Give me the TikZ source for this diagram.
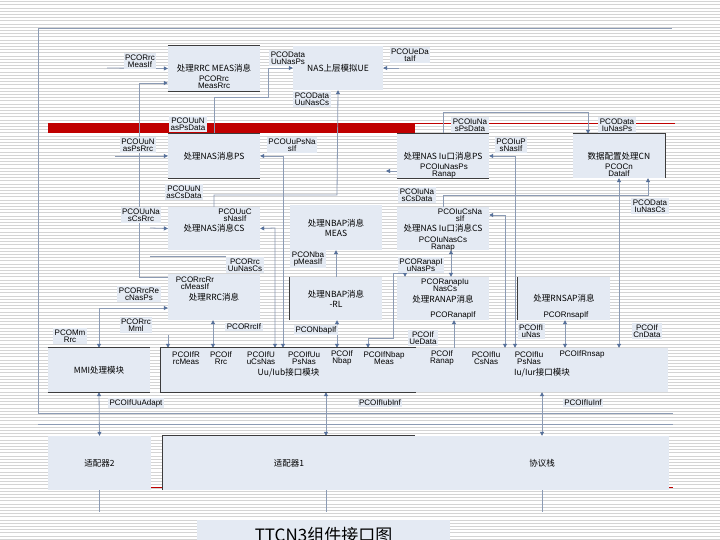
\documentclass[tikz,border=0pt]{standalone}
\usepackage{fontspec}
\setmainfont{Liberation Sans}
\newfontfamily\cjk{Noto Sans CJK SC}
\usepackage{xcolor}
\definecolor{ttbox}{HTML}{E4EAF3}
\definecolor{ttline}{HTML}{8C9BB4}
\definecolor{tttip}{HTML}{56709A}
\definecolor{ttdark}{HTML}{3C3C3C}
\definecolor{ttred}{HTML}{C00000}
\definecolor{ttstripe}{HTML}{D4D4D4}
\usepackage{tikz}
\usetikzlibrary{arrows.meta}
\pgfdeclarelayer{back}
\pgfdeclarelayer{wires}
\pgfsetlayers{back,wires,main}

\begin{document}
\begin{tikzpicture}[x=1pt,y=-1pt]
\tikzset{
 n/.style={fill=ttbox,inner sep=1pt,align=center,font=\cjk\fontsize{8.5}{10}\selectfont},
 l/.style={fill=ttbox,inner sep=1.5pt,align=center,font=\fontsize{8}{7.5}\selectfont},
 p/.style={inner sep=0pt,align=center,font=\fontsize{8}{7.5}\selectfont},
 w/.style={draw=ttline,line width=0.8pt},
 a/.style={w,-{Triangle[length=4pt,width=4pt,color=tttip]}},
 aa/.style={w,{Triangle[length=4pt,width=4pt,color=tttip]}-{Triangle[length=4pt,width=4pt,color=tttip]}},
 bd/.style={draw=ttdark,line width=0.9pt}
}
\useasboundingbox (0,0) rectangle (720,540);
\clip (0,0) rectangle (720,540);
\begin{pgfonlayer}{back}
\fill[white] (0,0) rectangle (720,540);
\foreach \k in {0,...,168}{\draw[ttstripe,line width=0.7pt] (0,1.6+3.2*\k) -- (720,1.6+3.2*\k);}
\fill[ttred] (48,123) rectangle (415,133);
\draw[ttred,line width=1pt] (415,124) -- (675,124);
\draw[ttred,line width=1pt] (48,487) -- (673,487);
\end{pgfonlayer}

% processing boxes
\node[n,minimum width=92,minimum height=45] (rrcmeas) at (214,68.5) {处理RRC MEAS消息};
\node[n,minimum width=90,minimum height=44] (uesim) at (338,68) {NAS上层模拟UE};
\node[n,minimum width=92,minimum height=44] (nasps) at (214,156) {处理NAS消息PS};
\node[n,minimum width=92,minimum height=44] (naslogps) at (443,156) {处理NAS Iu口消息PS};
\node[n,minimum width=92,minimum height=44] (cncfg) at (619,156) {数据配置处理CN};
\node[n,minimum width=92,minimum height=43] (nascs) at (214,228.5) {处理NAS消息CS};
\node[n,minimum width=92,minimum height=45] (nbapmeas) at (336,227.5) {处理NBAP消息\\MEAS};
\node[n,minimum width=92,minimum height=43] (naslscs) at (443,228.5) {处理NAS Iu口消息CS};
\node[n,minimum width=92,minimum height=46] (rrcproc) at (214,297) {处理RRC消息};
\node[n,minimum width=92,minimum height=43] (nbaprl) at (336,298.5) {处理NBAP消息\\-RL};
\node[n,minimum width=92,minimum height=43] (ranap) at (443,298.5) {\\[-1pt]处理RANAP消息};
\node[n,minimum width=92,minimum height=43] (rnsap) at (564,298.5) {处理RNSAP消息};
\node[n,minimum width=102,minimum height=44] (mmi) at (99,370) {MMI处理模块};
\node[n,minimum width=255,minimum height=44] (uuiub) at (288.5,370) {\\[2pt]Uu/Iub接口模块};
\node[n,minimum width=252,minimum height=44] (iuiur) at (542,370) {\\[2pt]Iu/Iur接口模块};
\node[n,minimum width=103,minimum height=54] (adapt2) at (99.5,463) {适配器2};
\node[n,minimum width=252,minimum height=54] (adapt1) at (289,463) {适配器1};
\node[n,minimum width=254,minimum height=54] (stack) at (542,463) {协议栈};
\node[fill=ttbox,minimum width=253,inner ysep=0pt,text height=21,text depth=5,anchor=base,font=\cjk\fontsize{17}{17}\selectfont] (ttl) at (323.5,541) {TTCN3组件接口图};

% dark box edges
\draw[bd] (rrcmeas.north west) -- (rrcmeas.north east) (rrcmeas.south west) -- (rrcmeas.south east);
\draw[bd] (nasps.north west) -- (nasps.north east) (nasps.south west) -- (nasps.south east);
\draw[bd] (naslogps.north west) -- (naslogps.north east) (naslogps.south west) -- (naslogps.south east);
\draw[bd] (cncfg.north west) -- (cncfg.north east) -- (cncfg.south east);
\draw[bd] (nbaprl.north west) -- (nbaprl.south west);
\draw[bd] (rnsap.north west) -- (rnsap.south west);
\draw[bd] (mmi.north west) -- (mmi.north east) (mmi.south west) -- (mmi.south east);
\draw[bd] (uuiub.north east) -- (uuiub.north west) -- (uuiub.south west) -- (uuiub.south east);
\draw[bd] (adapt1.south west) -- (adapt1.north west) -- (adapt1.north east);

% ports inside boxes
\node[p] (pMeasRrc) at (214,82) {PCORrc\\MeasRrc};
\node[p] (pIuNasPsRanap) at (444,171) {PCOIuNasPs\\Ranap};
\node[p] (pCnDataIf) at (619,170) {PCOCn\\DataIf};
\node[p] (pUuCsNasIf) at (235,215) {PCOUuC\\sNasIf};
\node[p] (pIuCsNasIf) at (460,215) {PCOIuCsNa\\sIf};
\node[p] (pIuNasCsRanap) at (443,244) {PCOIuNasCs\\Ranap};
\node[p] (pRrcMeasIf) at (195,283) {PCORrcRr\\cMeasIf};
\node[p] (pRanapIuNasCs) at (445,285) {PCORanapIu\\NasCs};
\node[p] (pRanapIf) at (453,315) {PCORanapIf};
\node[p] (pRnsapIf) at (566,315) {PCORnsapIf};
\node[p] (pIfRrcMeas) at (186,358) {PCOIfR\\rcMeas};
\node[p] (pIfRrc) at (221,358) {PCOIf\\Rrc};
\node[p] (pIfUuCsNas) at (261,358) {PCOIfU\\uCsNas};
\node[p] (pIfUuPsNas) at (304,358) {PCOIfUu\\PsNas};
\node[p] (pIfNbap) at (342,358) {PCOIf\\Nbap};
\node[p] (pIfNbapMeas) at (384,358) {PCOIfNbap\\Meas};
\node[p] (pIfRanap) at (442,358) {PCOIf\\Ranap};
\node[p] (pIfIuCsNas) at (486,358) {PCOIfIu\\CsNas};
\node[p] (pIfIuPsNas) at (529,358) {PCOIfIu\\PsNas};
\node[p] (pIfRnsap) at (582,354) {PCOIfRnsap};

% connector labels
\node[l] (lRrcMeasIf) at (140,61) {PCORrc\\MeasIf};
\node[l] (lUuNasPs) at (288,58) {PCOData\\UuNasPs};
\node[l] (lUeDataIf) at (410,55) {PCOUeDa\\taIf};
\node[l] (lUuNasCs) at (312,99) {PCOData\\UuNasCs};
\node[l] (lUuNasPsData) at (188,124) {PCOUuN\\asPsData};
\node[l] (lUuNasPsRrc) at (138,145) {PCOUuN\\asPsRrc};
\node[l] (lUuPsNasIf) at (292,145) {PCOUuPsNa\\sIf};
\node[l] (lIuNasPsData) at (470,125) {PCOIuNa\\sPsData};
\node[l] (lIuPsNasIf) at (511,145) {PCOIuP\\sNasIf};
\node[l] (lIuNasPs) at (617,125) {PCOData\\IuNasPs};
\node[l] (lUuNasCsData) at (184,192) {PCOUuN\\asCsData};
\node[l] (lIuNasCsData) at (417,195) {PCOIuNa\\sCsData};
\node[l] (lIuNasCs) at (650,206) {PCOData\\IuNasCs};
\node[l] (lUuNasCsRrc) at (141,215) {PCOUuNa\\sCsRrc};
\node[l] (lRrcUuNasCs) at (245,265) {PCORrc\\UuNasCs};
\node[l] (lNbapMeasIf) at (308,259) {PCONba\\pMeasIf};
\node[l] (lRanapIuNasPs) at (421,265) {PCORanapI\\uNasPs};
\node[l] (lRrcNasPs) at (139,294) {PCORrcRe\\cNasPs};
\node[l] (lRrcMml) at (136,325) {PCORrc\\Mml};
\node[l] (lRrcIf) at (244,327) {PCORrcIf};
\node[l] (lNbapIf) at (316,330) {PCONbapIf};
\node[l] (lIfUeData) at (423,338) {PCOIf\\UeData};
\node[l] (lIfIuNas) at (531,331) {PCOIfI\\uNas};
\node[l] (lIfCnData) at (647,331) {PCOIf\\CnData};
\node[l] (lMmRrc) at (70,336) {PCOMm\\Rrc};
\node[l] (lIfUu) at (136,403) {PCOIfUuAdapt};
\node[l] (lIfIub) at (380,403) {PCOIfIubInf};
\node[l] (lIfIu) at (583,403) {PCOIfIuInf};

% free ends
\coordinate (f1) at (107,68);
\coordinate (f2) at (399,68);
\coordinate (f3) at (115,156);
\coordinate (f4) at (150,228);
\coordinate (f5) at (150,256);
\coordinate (f6) at (168,335);

\begin{pgfonlayer}{wires}
\draw[w] (38,413) -- (38,28) -- (672,28);
\draw[w] (38,413) -- (673,413);
\draw[w] (38,424) -- (673,424);
\draw[a] (f1) -- (rrcmeas.west);
\draw[a] (rrcproc.west |- 0,277) -- (139,277) -- (139,83) -- (rrcmeas.west |- 0,83);
\draw[a] (nasps.north) -- (214,97) -- (268,97) -- (268,68) -- (uesim.west);
\draw[a] (f2) -- (uesim.east);
\draw[a] (nascs.north) -- (214,195) -- (337,195) -- (uesim.south);
\draw[a] (f3) -- (nasps.west);
\draw[aa] (nasps.east) -- (283,156) -- (uuiub.north -| 283,0);
\draw[a] (naslogps.north) -- (443,112) -- (588,112) -- (cncfg.north -| 588,0);
\draw[aa] (naslogps.east) -- (515,156) -- (iuiur.north -| 515,0);
\draw[a] (naslogps.west |- 0,171) -- (386,171);
\draw[aa] (cncfg.south) -- (iuiur.north -| cncfg.south);
\draw[a] (naslscs.north) -- (443,195) -- (648,195) -- (cncfg.south -| 648,0);
\draw[a] (f4) -- (nascs.west);
\draw[aa] (nascs.east) -- (275,228) -- (uuiub.north -| 275,0);
\draw[aa] (naslscs.east |- 0,215) -- (505,215) -- (iuiur.north -| 505,0);
\draw[a] (nbaprl.north) -- (nbapmeas.south);
\draw[aa] (naslscs.south -| 451,0) -- (ranap.north -| 451,0);
\draw[aa] (uuiub.north -| 368,0) -- (368,338) -- (393,338) -- (393,273) -- (405,273) -- (ranap.north -| 405,0);
\draw[a] (iuiur.north -| 454,0) -- (ranap.south -| 454,0);
\draw[aa] (iuiur.north -| 565,0) -- (rnsap.south -| 565,0);
\draw[aa] (uuiub.north -| 213,0) -- (rrcproc.south -| 213,0);
\draw[aa] (uuiub.north -| 337,0) -- (nbaprl.south -| 337,0);
\draw[aa] (mmi.north) -- (99,308) -- (rrcproc.west |- 0,308);
\draw[w] (f5) -- (f5 -| lRrcUuNasCs.west);
\draw[a] (f6) -- (uuiub.north -| 168,0);
\draw[aa] (adapt2.north) -- (mmi.south);
\draw[aa] (adapt1.north -| 326,0) -- (uuiub.south -| 326,0);
\draw[aa] (stack.north) -- (iuiur.south);
\foreach \b/\x in {adapt2/99.5,adapt1/326,stack/542}{\draw[w] (\b.south -| \x,0) -- (\x,512);}
\end{pgfonlayer}
\end{tikzpicture}
\end{document}
